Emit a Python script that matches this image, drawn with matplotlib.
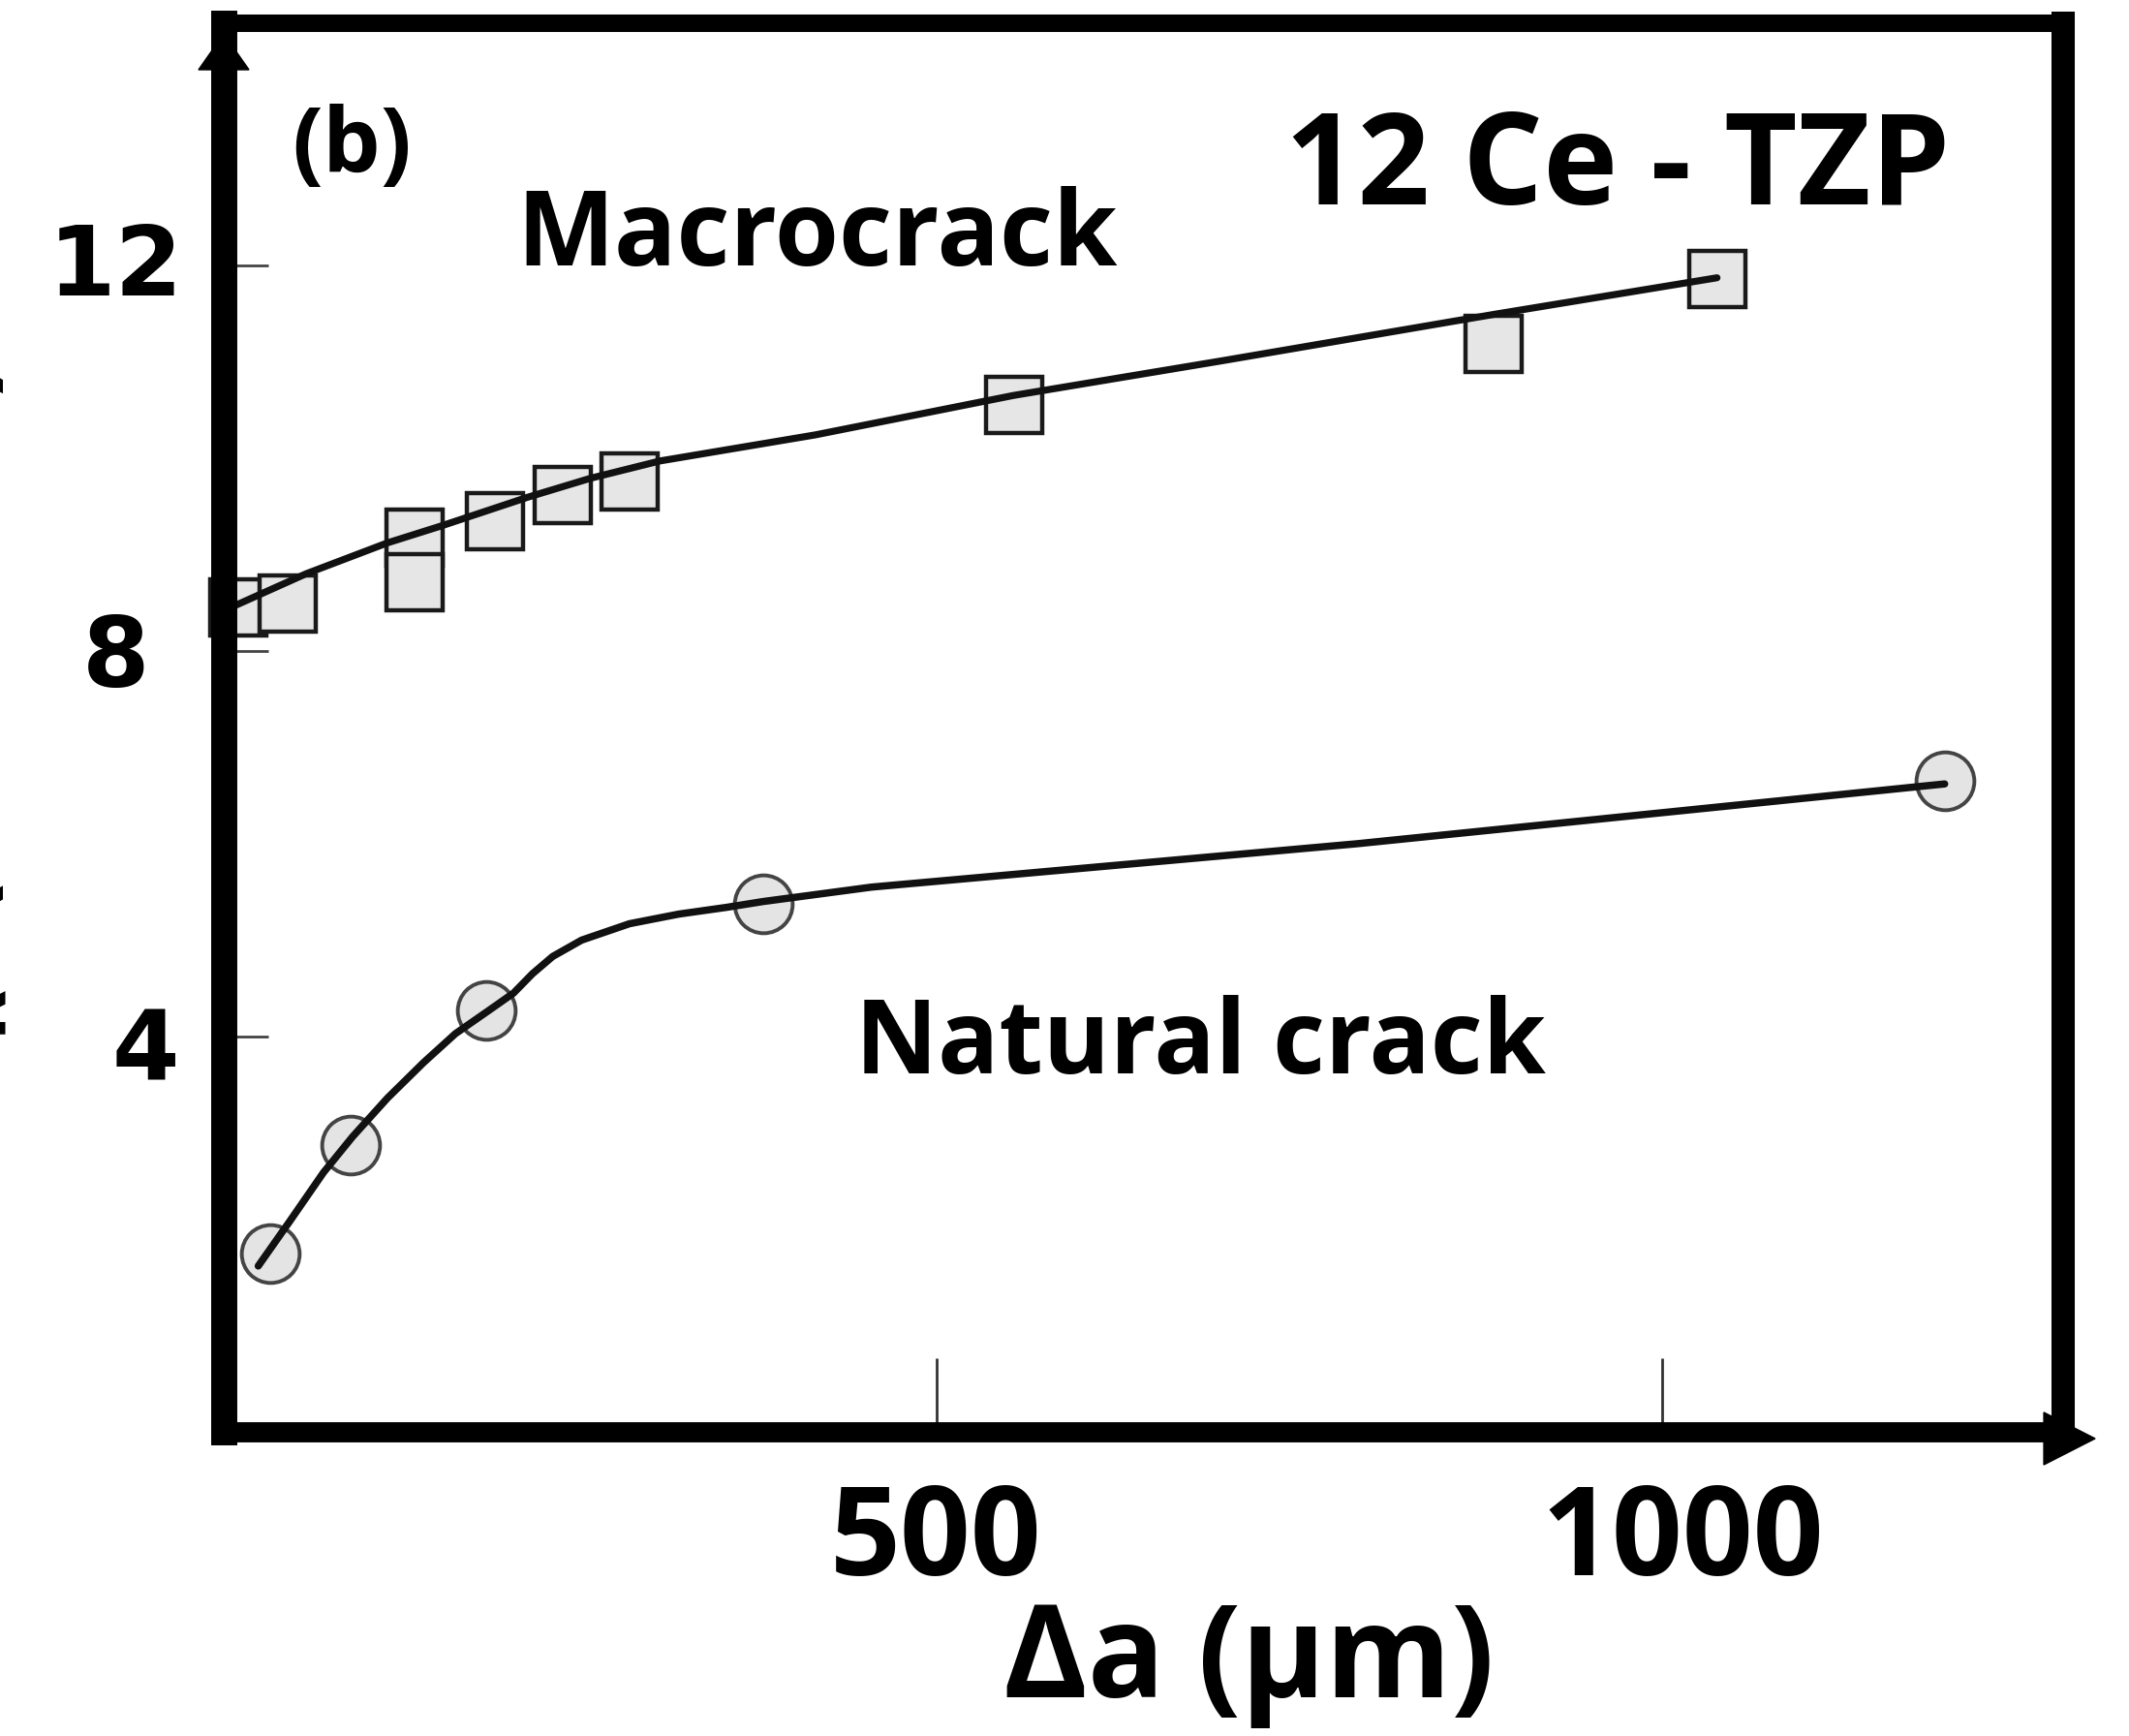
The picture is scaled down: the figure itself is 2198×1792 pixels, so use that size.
import matplotlib
matplotlib.use('Agg')
import matplotlib.pyplot as plt
from matplotlib.patches import Polygon
from matplotlib.transforms import blended_transform_factory

# ---------------- data ----------------
macro_x = [18, 52, 140, 140, 195, 242, 288, 553, 884, 1038]
macro_y = [8.45, 8.49, 9.17, 8.71, 9.35, 9.62, 9.76, 10.55, 11.18, 11.86]

natural_x = [40, 96, 189, 380, 1195]
natural_y = [1.75, 2.87, 4.27, 5.38, 6.65]

macro_fit_x = [13, 65, 121, 159, 217, 261, 309, 416, 553, 697, 884, 1038]
macro_fit_y = [8.45, 8.80, 9.12, 9.30, 9.59, 9.79, 9.97, 10.24, 10.65, 11.01, 11.49, 11.87]

natural_fit_x = [32, 54, 77, 97, 121, 146, 168, 190, 208, 221, 235, 255,
                 288, 322, 355, 380, 455, 790, 1195]
natural_fit_y = [1.62, 2.09, 2.59, 2.96, 3.36, 3.73, 4.03, 4.26, 4.45, 4.65,
                 4.83, 5.00, 5.17, 5.27, 5.34, 5.40, 5.55, 6.00, 6.62]

xtick_values = [500, 1000]
xtick_labels = ['500', '1000']
ytick_values = [4, 8, 12]
ytick_labels = ['4', '8', '12']

x_label = 'Δa (μm)'
y_label = 'K$_{\\bf R}$  (MPa·m$^{\\bf 1/2}$)'
label_b = '(b)'
label_macro = 'Macrocrack'
label_natural = 'Natural crack'
label_material = '12 Ce - TZP'

# ---------------- figure ----------------
W, H = 2198, 1792
fig = plt.figure(figsize=(W / 100, H / 100), dpi=100)
ax = fig.add_axes([231 / W, 1 - 1478 / H, (2130 - 231) / W, (1478 - 24) / H])
ax.set_xlim(8.2, 1276.7)
ax.set_ylim(-0.10, 14.51)

LBL = ['Open Sans', 'DejaVu Sans']

# fitted curves (drawn over markers, under spines)
ax.plot(macro_fit_x, macro_fit_y, color='#111111', lw=5.2, zorder=2.4,
        solid_joinstyle='round', solid_capstyle='round')
ax.plot(natural_fit_x, natural_fit_y, color='#111111', lw=5.4, zorder=2.4,
        solid_joinstyle='round', solid_capstyle='round')

# markers
ax.plot(macro_x, macro_y, ls='none', marker='s', ms=42, mfc='#e6e6e6',
        mec='#1a1a1a', mew=3.2, zorder=2.0, clip_on=False)
ax.plot(natural_x, natural_y, ls='none', marker='o', ms=43, mfc='#e4e4e4',
        mec='#444444', mew=2.8, zorder=2.0, clip_on=False)

# spines
spine_w = {'left': 19.4, 'top': 13, 'right': 17.3, 'bottom': 15}
for side, lw in spine_w.items():
    ax.spines[side].set_linewidth(lw)
    ax.spines[side].set_color('black')
    ax.spines[side].set_capstyle('projecting')

# ticks
ax.set_xticks(xtick_values)
ax.set_yticks(ytick_values)
ax.tick_params(axis='x', direction='in', length=55, width=2.0, color='#333333',
               labelbottom=False)
ax.tick_params(axis='y', direction='in', length=33, width=2.0, color='#444444',
               labelleft=False)

# tick labels as text, placed via the axes transforms
tr_y = blended_transform_factory(ax.transAxes, ax.transData)
y_lab_x = {'4': -0.0242, '8': -0.0405, '12': -0.0221}
y_lab_dy = {'4': -0.45, '8': -0.37, '12': -0.31}
for v, s in zip(ytick_values, ytick_labels):
    ax.text(y_lab_x[s], v + y_lab_dy[s], s, transform=tr_y, ha='right',
            va='baseline', fontsize=72, fontweight='bold',
            family=['DejaVu Sans'])

tr_x = blended_transform_factory(ax.transData, ax.transAxes)
x_lab_dx = {'500': -1, '1000': 14}
for v, s in zip(xtick_values, xtick_labels):
    ax.text(v + x_lab_dx[s], -0.1018, s, transform=tr_x, ha='center',
            va='baseline', fontsize=92, fontweight='bold', family=LBL)

# axis title
ax.text(715, -0.1884, x_label, transform=tr_x, ha='center', va='baseline',
        fontsize=95, fontweight='bold', family=LBL)

# y-label, clipped at the figure's left edge as in the reference
fig.text(-8 / W, 1 - 1150 / H, y_label, rotation=90, rotation_mode='anchor',
         ha='left', va='baseline', fontsize=70, fontweight='bold',
         family=['DejaVu Sans'])

# annotations
ax.text(55, 12.96, label_b, ha='left', va='baseline', fontsize=68,
        fontweight='bold', family=LBL)
ax.text(210, 12.0, label_macro, ha='left', va='baseline', fontsize=77,
        fontweight='bold', family=LBL)
ax.text(740, 12.63, label_material, ha='left', va='baseline', fontsize=94,
        fontweight='bold', family=LBL)
ax.text(444, 3.62, label_natural, ha='left', va='baseline', fontsize=75.5,
        fontweight='bold', family=LBL)

# axis arrowheads
up = Polygon([[0, 0.9925], [-0.0137, 0.967], [0.0137, 0.967]], closed=True,
             transform=ax.transAxes, color='black', clip_on=False, zorder=3)
right = Polygon([[1.0174, -0.0048], [0.9895, 0.0138], [0.9895, -0.0234]],
                closed=True, transform=ax.transAxes, color='black',
                clip_on=False, zorder=3)
ax.add_patch(up)
ax.add_patch(right)

fig.savefig('out.png', dpi=100, facecolor='white')
